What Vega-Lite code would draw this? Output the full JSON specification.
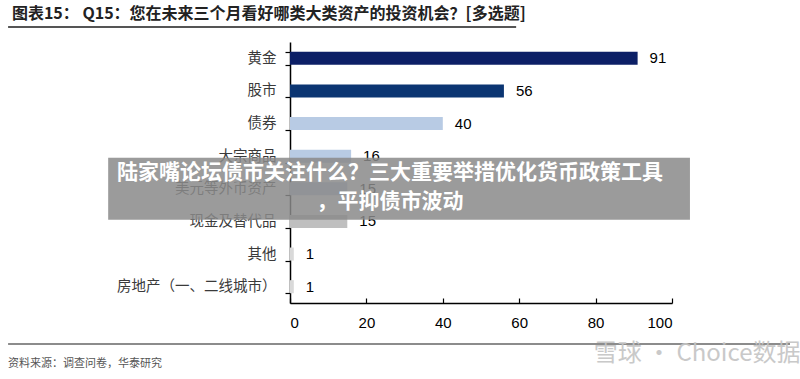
{
  "$schema": "https://vega.github.io/schema/vega-lite/v6.json",
  "autosize": {"type": "none"},
  "width": 382,
  "height": 261,
  "padding": {"left": 290, "top": 42, "right": 128, "bottom": 76},
  "background": "white",
  "config": {"view": {"stroke": null}},
  "data": {"values": [
    {"asset": "黄金", "pct": 91},
    {"asset": "股市", "pct": 56},
    {"asset": "债券", "pct": 40},
    {"asset": "大宗商品", "pct": 16},
    {"asset": "美元等外币资产", "pct": 15},
    {"asset": "现金及替代品", "pct": 15},
    {"asset": "其他", "pct": 1},
    {"asset": "房地产（一、二线城市）", "pct": 1}
  ]},
  "encoding": {
    "y": {
      "field": "asset", "type": "nominal", "sort": null,
      "scale": {"paddingInner": 0.6, "paddingOuter": 0.3},
      "axis": {
        "title": null, "tickBand": "extent", "tickSize": 5, "tickColor": "#000", "domainColor": "#000",
        "domainWidth": 1.5, "tickWidth": 1.2, "labelPadding": 9, "labelFont": "Noto Sans CJK SC",
        "labelFontSize": 14.5, "labelColor": "#3a3a3a", "zindex": 0
      }
    }
  },
  "layer": [
    {
      "mark": {"type": "bar"},
      "encoding": {
        "x": {
          "field": "pct", "type": "quantitative",
          "scale": {"domain": [0, 100], "nice": false},
          "axis": {
            "title": null, "values": [0, 20, 40, 60, 80, 100], "grid": false,
            "tickSize": -5, "tickColor": "#000", "domainColor": "#000", "domainWidth": 1.5, "tickWidth": 1.2,
            "labelPadding": 17, "labelFont": "Liberation Sans", "labelFontSize": 15, "labelColor": "#000", "zindex": 0
          }
        },
        "color": {
          "field": "asset", "type": "nominal", "legend": null,
          "scale": {
            "domain": ["黄金", "股市", "债券", "大宗商品", "美元等外币资产", "现金及替代品", "其他", "房地产（一、二线城市）"],
            "range": ["#0c1f66", "#0b3572", "#b8cbe4", "#b8cbe4", "#b8cbe4", "#bfbfbf", "#d9d9d9", "#d9d9d9"]
          }
        }
      }
    },
    {
      "mark": {"type": "text", "align": "left", "baseline": "middle", "dx": 12, "font": "Liberation Sans", "fontSize": 15, "color": "#000"},
      "encoding": {
        "x": {"field": "pct", "type": "quantitative"},
        "text": {"field": "pct", "type": "quantitative"}
      }
    },
    {
      "data": {"values": [{}]},
      "mark": {"type": "rule", "strokeWidth": 62, "strokeCap": "butt", "color": "#8a8a8a", "opacity": 0.85},
      "encoding": {
        "x": {"datum": -47.6, "type": "quantitative"},
        "x2": {"datum": 104.7},
        "y": {"datum": "美元等外币资产"}
      }
    },
    {
      "data": {"values": [{}]},
      "mark": {
        "type": "text", "text": ["陆家嘴论坛债市关注什么？三大重要举措优化货币政策工具", "，平抑债市波动"],
        "lineHeight": 29, "font": "Noto Sans CJK SC", "fontSize": 21, "fontWeight": "bold",
        "color": "white", "align": "center", "baseline": "middle"
      },
      "encoding": {
        "x": {"datum": 26.2, "type": "quantitative"},
        "y": {"datum": "美元等外币资产", "bandPosition": -0.71}
      }
    },
    {
      "data": {"values": [{}]},
      "mark": {
        "type": "text", "text": "图表15： Q15：您在未来三个月看好哪类大类资产的投资机会？[多选题]",
        "font": "Noto Sans CJK SC", "fontSize": 16, "fontWeight": "bold", "color": "#222",
        "align": "left", "baseline": "middle"
      },
      "encoding": {
        "x": {"datum": -72.8, "type": "quantitative"},
        "y": {"datum": "黄金", "bandPosition": -2.9}
      }
    },
    {
      "data": {"values": [{}]},
      "mark": {"type": "rule", "color": "#555", "strokeWidth": 2},
      "encoding": {
        "x": {"datum": -73.8, "type": "quantitative"},
        "x2": {"datum": 59.2},
        "y": {"datum": "黄金", "bandPosition": -1.9}
      }
    },
    {
      "data": {"values": [{}]},
      "mark": {"type": "rule", "color": "#666", "strokeWidth": 1.5},
      "encoding": {
        "x": {"datum": -73.8, "type": "quantitative"},
        "x2": {"datum": 130.9},
        "y": {"datum": "房地产（一、二线城市）", "bandPosition": 4.89}
      }
    },
    {
      "data": {"values": [{}]},
      "mark": {
        "type": "text", "text": "资料来源：调查问卷，华泰研究",
        "font": "Noto Sans CJK SC", "fontSize": 11, "color": "#555",
        "align": "left", "baseline": "middle"
      },
      "encoding": {
        "x": {"datum": -73.8, "type": "quantitative"},
        "y": {"datum": "房地产（一、二线城市）", "bandPosition": 6.4}
      }
    },
    {
      "data": {"values": [{}]},
      "mark": {
        "type": "text", "text": "雪球 · Choice数据",
        "font": "Noto Sans CJK SC", "fontSize": 24, "color": "#c4c4c4", "opacity": 0.9,
        "align": "left", "baseline": "middle"
      },
      "encoding": {
        "x": {"datum": 79.5, "type": "quantitative"},
        "y": {"datum": "房地产（一、二线城市）", "bandPosition": 5.65}
      }
    }
  ]
}
